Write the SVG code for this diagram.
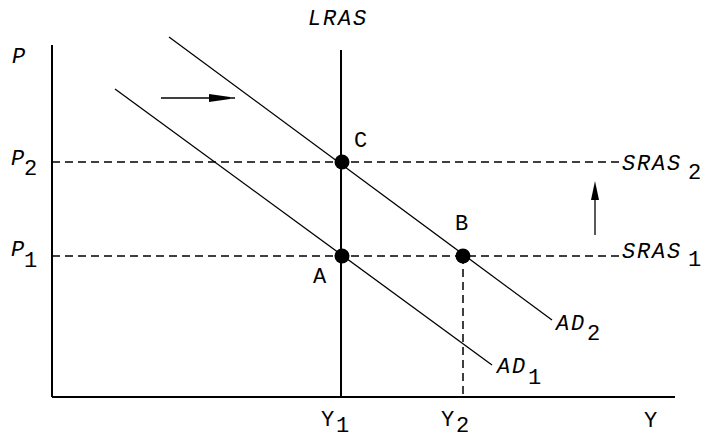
<svg xmlns="http://www.w3.org/2000/svg" width="702" height="438" viewBox="0 0 702 438">
<style>
.ax{stroke:#000;stroke-width:2;fill:none}
.ln{stroke:#000;stroke-width:1.3;fill:none}
.ds{stroke:#000;stroke-width:1.5;fill:none;stroke-dasharray:8,5}
text{font-family:"Liberation Mono","Courier New",monospace;font-size:22px;fill:#000}
.it{font-style:italic;letter-spacing:1.8px}
.dot{fill:#000}
</style>
<g id="axes">
<line class="ax" x1="52" y1="45" x2="52" y2="397"/>
<line class="ax" x1="52" y1="397" x2="675" y2="397"/>
<text class="it" x="12" y="63">P</text>
<text x="644" y="427">Y</text>
</g>
<g id="connectors">
<line class="ds" x1="52" y1="162" x2="620" y2="162"/>
<line class="ds" x1="52" y1="256" x2="620" y2="256"/>
<line class="ds" x1="463" y1="256" x2="463" y2="397"/>
<line class="ln" x1="115" y1="89" x2="492" y2="365"/>
<line class="ln" x1="169" y1="37" x2="552" y2="320"/>
<line class="ax" x1="341" y1="50" x2="341" y2="397"/>
<line class="ln" x1="161" y1="98" x2="235" y2="98" stroke-width="2"/>
<path d="M209,94 L230,97 L230,99 L209,102 Z" fill="#000"/>
<line class="ln" x1="595" y1="235" x2="595" y2="190" stroke-width="2"/>
<path d="M591,200 L595,181 L599,200 Z" fill="#000"/>
</g>
<g id="LRAS"><text class="it" x="308" y="25">LRAS</text></g>
<g id="SRAS2"><text class="it" x="622" y="170">SRAS</text><text x="688" y="179">2</text></g>
<g id="SRAS1"><text class="it" x="622" y="258">SRAS</text><text x="688" y="266">1</text></g>
<g id="AD2"><text class="it" x="556" y="330">AD</text><text x="587" y="340">2</text></g>
<g id="AD1"><text class="it" x="497" y="373">AD</text><text x="528" y="384">1</text></g>
<g id="P2"><text class="it" x="11" y="165">P</text><text x="24" y="175">2</text></g>
<g id="P1"><text class="it" x="11" y="256">P</text><text x="24" y="267">1</text></g>
<g id="Y1"><text x="321" y="426">Y</text><text x="336" y="432">1</text></g>
<g id="Y2"><text x="441" y="426">Y</text><text x="456" y="432">2</text></g>
<g id="C"><circle class="dot" cx="342" cy="162" r="7.5"/><text x="354" y="147">C</text></g>
<g id="A"><circle class="dot" cx="342" cy="256" r="7.5"/><text x="313" y="283">A</text></g>
<g id="B"><circle class="dot" cx="463" cy="256" r="7.5"/><text x="455" y="230">B</text></g>
</svg>
